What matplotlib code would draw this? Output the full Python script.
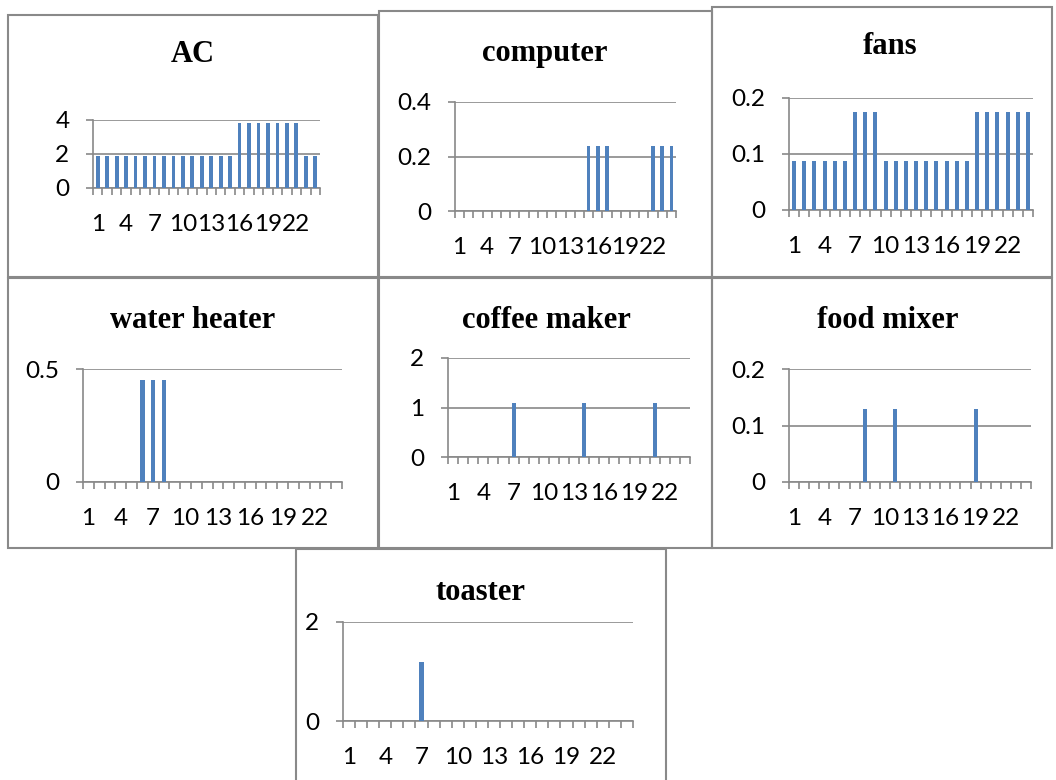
import matplotlib
matplotlib.use('Agg')
import matplotlib.pyplot as plt
from matplotlib.patches import Rectangle
from matplotlib.ticker import FixedLocator, FuncFormatter

# hourly load of each appliance (24 hours)
hours = list(range(1, 25))
ac = [1.9, 1.9, 1.9, 1.9, 1.9, 1.9, 1.9, 1.9, 1.9, 1.9, 1.9, 1.9,
      1.9, 1.9, 1.9, 3.8, 3.8, 3.8, 3.8, 3.8, 3.8, 3.8, 1.9, 1.9]
computer = [0, 0, 0, 0, 0, 0, 0, 0, 0, 0, 0, 0,
            0, 0, 0.24, 0.24, 0.24, 0, 0, 0, 0, 0.24, 0.24, 0.24]
fans = [0.0875, 0.0875, 0.0875, 0.0875, 0.0875, 0.0875, 0.175, 0.175, 0.175, 0.0875, 0.0875, 0.0875,
        0.0875, 0.0875, 0.0875, 0.0875, 0.0875, 0.0875, 0.175, 0.175, 0.175, 0.175, 0.175, 0.175]
water_heater = [0, 0, 0, 0, 0, 0.45, 0.45, 0.45, 0, 0, 0, 0,
                0, 0, 0, 0, 0, 0, 0, 0, 0, 0, 0, 0]
coffee_maker = [0, 0, 0, 0, 0, 0, 1.1, 0, 0, 0, 0, 0,
                0, 1.1, 0, 0, 0, 0, 0, 0, 1.1, 0, 0, 0]
food_mixer = [0, 0, 0, 0, 0, 0, 0, 0.13, 0, 0, 0.13, 0,
              0, 0, 0, 0, 0, 0, 0.13, 0, 0, 0, 0, 0]
toaster = [0, 0, 0, 0, 0, 0, 1.2, 0, 0, 0, 0, 0,
           0, 0, 0, 0, 0, 0, 0, 0, 0, 0, 0, 0]

titles = ['AC', 'computer', 'fans', 'water heater', 'coffee maker', 'food mixer', 'toaster']
series = [ac, computer, fans, water_heater, coffee_maker, food_mixer, toaster]
yticks = [[0, 2, 4], [0, 0.2, 0.4], [0, 0.1, 0.2], [0, 0.5], [0, 1, 2], [0, 0.1, 0.2], [0, 2]]
xlabels = [1, 4, 7, 10, 13, 16, 19, 22]

W, H = 1056, 780
BAR = '#4F81BD'
GRAY = '#898989'

# pixel layout: panel box (x0, y0, x1, y1), plot area (x0, y0, x1, y1), title centre
boxes = [(8, 15, 378, 277), (379, 11, 712, 277), (712, 7, 1052, 277),
         (8, 278, 378, 548), (379, 278, 712, 548), (712, 278, 1052, 548),
         (296, 549, 666, 795)]
areas = [(93, 120, 320, 188), (455, 102, 676, 211), (789, 98, 1033, 210),
         (83, 369, 342, 482), (448, 358, 690, 457), (789, 369, 1031, 482),
         (343, 622, 633, 721)]
title_pos = [(193, 55), (545, 53), (890, 47), (193, 320), (546, 320), (888, 320), (480, 592)]


def fmt(v, _):
    return '0' if v == 0 else '%g' % v


def draw_panel(ax, values, ticks):
    ax.bar(hours, values, width=0.4, color=BAR, zorder=3)
    ax.set_xlim(0.5, 24.5)
    ax.set_ylim(ticks[0], ticks[-1])
    # tick marks between categories, labels every third hour
    ax.xaxis.set_major_locator(FixedLocator([h + 0.5 for h in range(25)]))
    ax.xaxis.set_major_formatter(FuncFormatter(lambda v, _: ''))
    ax.xaxis.set_minor_locator(FixedLocator(xlabels))
    ax.xaxis.set_minor_formatter(FuncFormatter(lambda v, _: '%d' % v))
    ax.tick_params(axis='x', which='major', direction='out', length=5, width=1.2, color=GRAY)
    ax.tick_params(axis='x', which='minor', length=0, pad=19, labelsize=17.5)
    ax.set_yticks(ticks)
    ax.yaxis.set_major_formatter(FuncFormatter(fmt))
    ax.tick_params(axis='y', direction='out', length=5, width=1.2, color=GRAY, pad=12, labelsize=17.5)
    ax.grid(axis='y', color=GRAY, linewidth=1.2, zorder=0)
    for s in ['top', 'right']:
        ax.spines[s].set_visible(False)
    for s in ['left', 'bottom']:
        ax.spines[s].set_color(GRAY)
        ax.spines[s].set_linewidth(1.2)
    ax.set_axisbelow(True)


plt.rcParams['font.family'] = ['Lato', 'DejaVu Sans']
fig = plt.figure(figsize=(W / 100, H / 100), dpi=100)

for i in range(len(titles)):
    bx0, by0, bx1, by1 = boxes[i]
    fig.patches.append(Rectangle((bx0 / W, 1 - by1 / H), (bx1 - bx0) / W, (by1 - by0) / H,
                                 transform=fig.transFigure, fill=False,
                                 edgecolor=GRAY, linewidth=1.5))
    x0, y0, x1, y1 = areas[i]
    ax = fig.add_axes([x0 / W, 1 - y1 / H, (x1 - x0) / W, (y1 - y0) / H])
    draw_panel(ax, series[i], yticks[i])
    tx, ty = title_pos[i]
    fig.text(tx / W, 1 - ty / H, titles[i], ha='center', va='center',
             family='Liberation Serif', fontweight='bold', fontsize=22)

fig.savefig('out.png', dpi=100, facecolor='white')
